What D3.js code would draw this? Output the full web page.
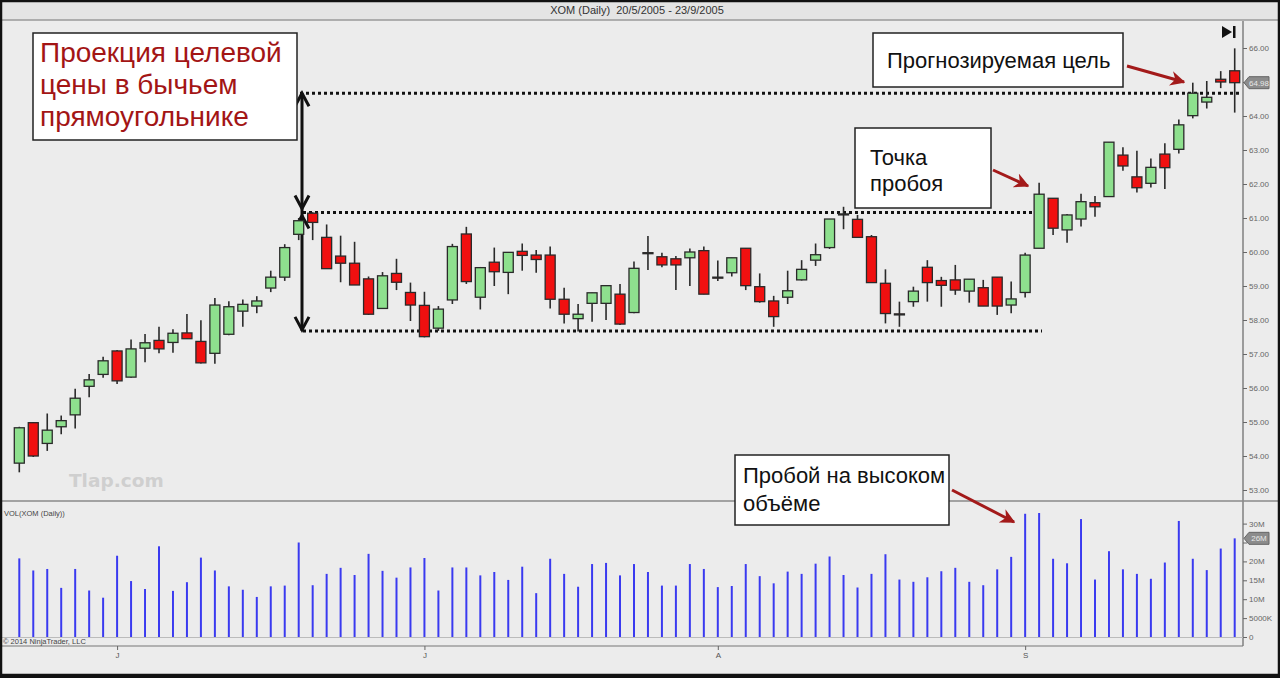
<!DOCTYPE html>
<html>
<head>
<meta charset="utf-8">
<script src="https://cdn.jsdelivr.net/npm/d3@7"></script>
<style>
  body { margin: 0; background: #ececec; }
  svg { display: block; font-family: 'Liberation Sans', Arial, sans-serif; }
</style>
</head>
<body>
<svg id="chart"></svg>
<script>
// data (XOM daily, 20/5/2005 - 23/9/2005)
const opens = [53.79, 54.98, 54.37, 54.86, 55.21, 56.05, 56.40, 57.09, 56.32, 57.17,
  57.40, 57.34, 57.62, 57.37, 57.02, 57.58, 58.26, 58.41, 58.94, 59.26,
  60.52, 61.14, 60.43, 59.88, 59.67, 59.21, 58.34, 59.37, 58.81, 58.43,
  57.76, 58.59, 60.53, 58.67, 59.70, 59.40, 60.02, 59.91, 59.91, 58.61,
  58.04, 58.49, 58.49, 58.76, 58.22, 59.98, 59.86, 59.80, 59.83, 60.04,
  59.26, 59.39, 60.11, 58.98, 58.56, 58.67, 59.18, 59.76, 60.13, 61.10,
  60.96, 60.45, 59.08, 58.18, 58.54, 59.55, 59.16, 59.18, 58.85, 58.95,
  59.26, 58.44, 58.81, 60.11, 61.58, 60.65, 60.97, 61.45, 61.63, 62.85,
  62.21, 62.02, 62.88, 63.02, 64.01, 64.41, 65.08, 65.33];
const highs = [54.86, 55.00, 55.25, 55.19, 55.98, 56.41, 56.92, 57.12, 57.43, 57.59,
  57.80, 57.73, 58.18, 57.99, 58.65, 58.55, 58.60, 58.70, 59.45, 60.23,
  61.00, 61.17, 60.81, 60.48, 60.30, 59.28, 59.41, 59.80, 59.10, 58.83,
  58.41, 60.24, 60.74, 59.56, 60.13, 60.00, 60.25, 60.06, 60.16, 58.95,
  58.47, 58.80, 59.01, 59.06, 59.72, 60.47, 59.98, 59.88, 60.10, 60.16,
  59.75, 59.83, 60.11, 59.37, 58.71, 59.45, 59.76, 60.25, 60.97, 61.33,
  61.09, 60.50, 59.49, 58.54, 58.98, 59.76, 59.27, 59.62, 59.20, 59.18,
  59.26, 59.13, 59.98, 62.04, 61.58, 61.12, 61.71, 61.65, 63.23, 63.08,
  62.98, 62.75, 63.20, 63.90, 64.98, 65.03, 65.32, 65.99];
const lows = [53.52, 53.97, 54.15, 54.64, 54.81, 55.73, 56.30, 56.12, 56.30, 56.76,
  57.02, 57.04, 57.44, 56.72, 56.71, 57.55, 57.80, 58.20, 58.82, 59.15,
  60.35, 60.35, 59.51, 59.11, 59.03, 58.15, 58.33, 58.88, 57.97, 57.49,
  57.68, 58.47, 59.06, 58.31, 59.00, 58.76, 59.45, 59.39, 58.34, 57.90,
  57.66, 57.95, 58.00, 57.85, 58.20, 59.47, 59.55, 58.88, 59.00, 58.76,
  59.15, 59.28, 58.88, 58.51, 57.80, 58.47, 59.16, 59.59, 60.09, 60.67,
  60.43, 59.10, 57.90, 57.80, 58.39, 58.54, 58.39, 58.74, 58.51, 58.41,
  58.15, 58.20, 58.66, 60.11, 60.50, 60.27, 60.75, 61.04, 61.63, 62.39,
  61.75, 61.90, 61.85, 62.90, 63.93, 64.22, 64.82, 64.10];
const closes = [54.83, 54.00, 54.76, 55.04, 55.70, 56.24, 56.80, 56.21, 57.15, 57.33,
  57.15, 57.61, 57.45, 56.74, 58.44, 58.39, 58.46, 58.56, 59.26, 60.13,
  60.92, 60.87, 59.51, 59.67, 59.03, 58.17, 59.30, 59.11, 58.44, 57.51,
  58.32, 60.16, 59.13, 59.54, 59.42, 59.99, 59.90, 59.78, 58.61, 58.17,
  58.17, 58.80, 59.01, 57.88, 59.52, 59.97, 59.62, 59.62, 60.00, 58.76,
  59.24, 59.83, 59.01, 58.54, 58.10, 58.86, 59.49, 59.92, 60.97, 61.12,
  60.43, 59.10, 58.19, 58.15, 58.85, 59.10, 59.02, 58.88, 59.20, 58.41,
  58.41, 58.62, 59.91, 61.70, 60.70, 61.09, 61.48, 61.33, 63.23, 62.53,
  61.89, 62.49, 62.48, 63.74, 64.67, 64.55, 65.00, 64.98];
// volume, millions of shares
const volumes = [20.8, 17.6, 18.0, 13.0, 18.0, 12.3, 10.4, 21.5, 14.8, 12.7,
  24.0, 12.2, 14.5, 21.0, 17.6, 13.4, 12.5, 10.6, 13.4, 13.6,
  25.0, 13.7, 16.7, 18.3, 16.4, 22.0, 17.5, 15.7, 18.4, 20.9,
  12.3, 18.4, 18.4, 16.3, 17.2, 15.1, 18.6, 11.6, 20.7, 16.7,
  13.3, 19.3, 19.6, 16.3, 19.3, 17.2, 13.6, 13.6, 19.3, 18.0,
  13.2, 13.5, 19.3, 16.1, 14.2, 17.3, 16.7, 19.4, 21.3, 16.4,
  13.1, 16.7, 21.9, 15.2, 14.6, 15.8, 17.4, 18.3, 14.6, 13.7,
  17.9, 21.2, 32.6, 32.8, 20.7, 19.5, 31.2, 15.2, 22.7, 17.9,
  16.7, 15.4, 19.7, 30.7, 20.7, 17.7, 23.4, 26.1];

// month ticks on the time axis (bar index of first session shown)
const monthIdx = [7, 29, 50, 72];
const monthLabels = ['J', 'J', 'A', 'S'];

// 65.00 and 25M sit under the last-value markers, so they carry no label
const priceTicks = [53, 54, 55, 56, 57, 58, 59, 60, 61, 62, 63, 64, 65, 66];
const priceTickLabels = ['53.00', '54.00', '55.00', '56.00', '57.00', '58.00', '59.00',
  '60.00', '61.00', '62.00', '63.00', '64.00', '', '66.00'];
const volTicks = [0, 5, 10, 15, 20, 25, 30];
const volTickLabels = ['0', '5000K', '10M', '15M', '20M', '', '30M'];

// pattern levels
const targetLevel = 64.67;
const resistance = 61.16;
const support = 57.68;

const width = 1280;
const height = 678;
const axisX = 1243;

const svg = d3.select('#chart')
    .attr('width', width)
    .attr('height', height);

// background
svg.append('rect')
    .attr('width', width).attr('height', height)
    .attr('fill', '#ececec');

// title bar
svg.append('rect')
    .attr('x', 0).attr('y', 0).attr('width', width).attr('height', 20)
    .attr('fill', '#e4e4e4');
svg.append('line')
    .attr('x1', 0).attr('x2', width).attr('y1', 20).attr('y2', 20)
    .attr('stroke', '#9a9a9a').attr('stroke-width', 1.5);
svg.append('text')
    .attr('x', 637).attr('y', 14)
    .attr('text-anchor', 'middle')
    .attr('font-size', 11)
    .attr('fill', '#333')
    .text('XOM (Daily)\u00a0 20/5/2005 - 23/9/2005');

// scales
const data = opens.map((o, i) => ({
    i: i, open: o, high: highs[i], low: lows[i], close: closes[i], vol: volumes[i]
}));

const x = d3.scalePoint().domain(d3.range(data.length)).range([19.3, 1234.7]);
const y = d3.scaleLinear().domain([53, 66]).range([490, 48]);
const yVol = d3.scaleLinear().domain([0, 30]).range([637, 523.6]);

// panel frames
svg.append('line')
    .attr('x1', axisX).attr('x2', axisX).attr('y1', 21).attr('y2', 646)
    .attr('stroke', '#666').attr('stroke-width', 1.2);
svg.append('line')
    .attr('x1', 0).attr('x2', width).attr('y1', 501).attr('y2', 501)
    .attr('stroke', '#8a8a8a').attr('stroke-width', 1.5);
svg.append('line')
    .attr('x1', 0).attr('x2', axisX).attr('y1', 646).attr('y2', 646)
    .attr('stroke', '#777').attr('stroke-width', 1.2);
svg.append('line')
    .attr('x1', 0).attr('x2', axisX).attr('y1', 637.5).attr('y2', 637.5)
    .attr('stroke', '#bbb').attr('stroke-width', 1);

// price axis
const yAxis = svg.append('g')
    .attr('transform', `translate(${axisX},0)`)
    .call(d3.axisRight(y).tickValues(priceTicks).tickFormat((d, k) => priceTickLabels[k]).tickSize(4).tickPadding(2));
yAxis.select('.domain').remove();
yAxis.selectAll('line').attr('stroke', '#666');
yAxis.selectAll('text').attr('font-size', 8).attr('fill', '#666').attr('font-family', 'Liberation Sans, Arial');

// volume axis
const vAxis = svg.append('g')
    .attr('transform', `translate(${axisX},0)`)
    .call(d3.axisRight(yVol).tickValues(volTicks).tickFormat((d, k) => volTickLabels[k]).tickSize(4).tickPadding(2));
vAxis.select('.domain').remove();
vAxis.selectAll('line').attr('stroke', '#666');
vAxis.selectAll('text').attr('font-size', 8).attr('fill', '#666').attr('font-family', 'Liberation Sans, Arial');

// time axis
const xAxis = svg.append('g')
    .attr('transform', 'translate(0,646)')
    .call(d3.axisBottom(x).tickValues(monthIdx).tickFormat((d, k) => monthLabels[k]).tickSize(4).tickPadding(2));
xAxis.select('.domain').remove();
xAxis.selectAll('line').attr('stroke', '#666');
xAxis.selectAll('text').attr('font-size', 8).attr('fill', '#555').attr('font-family', 'Liberation Sans, Arial');

// watermark
svg.append('text')
    .attr('x', 69).attr('y', 487)
    .attr('font-size', 18.5).attr('font-weight', 'bold')
    .attr('font-family', 'Verdana, DejaVu Sans, sans-serif')
    .attr('fill', '#cfcfcf')
    .text('Tlap.com');

// dotted levels
const dotted = [
    { level: targetLevel, x1: 300, x2: axisX - 2 },
    { level: resistance, x1: 303, x2: 1032 },
    { level: support, x1: 303, x2: 1042 }
];
svg.selectAll('.level')
    .data(dotted)
    .enter()
    .append('line')
    .attr('class', 'level')
    .attr('x1', d => d.x1).attr('x2', d => d.x2)
    .attr('y1', d => y(d.level)).attr('y2', d => y(d.level))
    .attr('stroke', '#111').attr('stroke-width', 3)
    .attr('stroke-dasharray', '3,3');

// double arrow showing the projected height
const ax = 302;
svg.append('line')
    .attr('x1', ax).attr('x2', ax)
    .attr('y1', y(targetLevel)).attr('y2', y(support))
    .attr('stroke', '#111').attr('stroke-width', 3);
const heads = [
    { yy: y(targetLevel), dir: -1 },
    { yy: y(resistance) - 4, dir: 1 },
    { yy: y(resistance) + 3, dir: -1 },
    { yy: y(support) - 1, dir: 1 }
];
svg.selectAll('.head')
    .data(heads)
    .enter()
    .append('polyline')
    .attr('class', 'head')
    .attr('points', d => `${ax - 7},${d.yy - d.dir * 13} ${ax},${d.yy} ${ax + 7},${d.yy - d.dir * 13}`)
    .attr('fill', 'none').attr('stroke', '#111').attr('stroke-width', 3);

// candles
const candle = svg.selectAll('.candle')
    .data(data)
    .enter()
    .append('g')
    .attr('class', 'candle');

candle.append('line')
    .attr('x1', d => x(d.i)).attr('x2', d => x(d.i))
    .attr('y1', d => y(d.high)).attr('y2', d => y(d.low))
    .attr('stroke', '#2a2a2a').attr('stroke-width', 1.6);

candle.append('rect')
    .attr('x', d => x(d.i) - 5)
    .attr('y', d => y(Math.max(d.open, d.close)))
    .attr('width', 10)
    .attr('height', d => Math.max(1, Math.abs(y(d.open) - y(d.close))))
    .attr('fill', d => d.close >= d.open ? '#8ee08e' : '#f01010')
    .attr('stroke', '#2a2a2a').attr('stroke-width', 1.3);

// volume bars
svg.selectAll('.vol')
    .data(data)
    .enter()
    .append('line')
    .attr('class', 'vol')
    .attr('x1', d => x(d.i)).attr('x2', d => x(d.i))
    .attr('y1', yVol(0)).attr('y2', d => yVol(d.vol))
    .attr('stroke', '#3a3af0').attr('stroke-width', 2);

svg.append('text')
    .attr('x', 4).attr('y', 516)
    .attr('font-size', 7.5).attr('fill', '#444')
    .text('VOL(XOM (Daily))');
svg.append('text')
    .attr('x', 3).attr('y', 644)
    .attr('font-size', 7.5).attr('fill', '#444')
    .text('© 2014 NinjaTrader, LLC');

// last value markers on the axes
function marker(yy, label) {
    const g = svg.append('g').attr('transform', `translate(${axisX + 1},${yy})`);
    g.append('path')
        .attr('d', 'M0,0 L5,-6 L25,-6 L25,6 L5,6 Z')
        .attr('fill', '#8c8c8c').attr('stroke', '#666');
    g.append('text')
        .attr('x', 15).attr('y', 3)
        .attr('text-anchor', 'middle')
        .attr('font-size', 8).attr('fill', '#e8e8e8')
        .text(label);
}
marker(y(closes[closes.length - 1]), d3.format('.2f')(closes[closes.length - 1]));
marker(yVol(volumes[volumes.length - 1]), Math.round(volumes[volumes.length - 1]) + 'M');

// "go to end" icon
svg.append('path')
    .attr('d', 'M1222,26 L1232,32 L1222,38 Z')
    .attr('fill', '#111');
svg.append('rect')
    .attr('x', 1233).attr('y', 26).attr('width', 2.5).attr('height', 12)
    .attr('fill', '#111');

// annotation boxes
const defs = svg.append('defs');
defs.append('marker')
    .attr('id', 'redhead')
    .attr('viewBox', '0 0 10 10')
    .attr('refX', 9).attr('refY', 5)
    .attr('markerWidth', 5).attr('markerHeight', 5)
    .attr('orient', 'auto')
    .append('path')
    .attr('d', 'M0,0 L10,5 L0,10 L3,5 Z')
    .attr('fill', '#a31a1a');

function box(x0, y0, w, h, lines, size, color, lineH, tx, ty) {
    svg.append('rect')
        .attr('x', x0).attr('y', y0).attr('width', w).attr('height', h)
        .attr('fill', '#fff').attr('stroke', '#222').attr('stroke-width', 1.5);
    svg.append('text')
        .attr('font-size', size).attr('fill', color)
        .selectAll('tspan')
        .data(lines)
        .enter()
        .append('tspan')
        .attr('x', tx).attr('y', (d, k) => ty + k * lineH)
        .text(d => d);
}

box(33, 33, 264, 107, ['Проекция целевой', 'цены в бычьем', 'прямоугольнике'], 28, '#a31515', 32, 40, 62);
box(873, 33, 250, 54, ['Прогнозируемая цель'], 22, '#111', 0, 887, 68);
box(855, 128, 136, 80, ['Точка', 'пробоя'], 22, '#111', 26, 870, 165);
box(735, 455, 214, 70, ['Пробой на высоком', 'объёме'], 22, '#111', 28, 743, 483);

const arrows = [
    [1127, 66, 1184, 82],
    [993, 170, 1028, 186],
    [952, 490, 1014, 522]
];
svg.selectAll('.note-arrow')
    .data(arrows)
    .enter()
    .append('line')
    .attr('class', 'note-arrow')
    .attr('x1', d => d[0]).attr('y1', d => d[1])
    .attr('x2', d => d[2]).attr('y2', d => d[3])
    .attr('stroke', '#a31a1a').attr('stroke-width', 3)
    .attr('marker-end', 'url(#redhead)');

// outer frame
svg.append('rect')
    .attr('x', 1).attr('y', 1).attr('width', width - 2).attr('height', height - 4)
    .attr('fill', 'none').attr('stroke', '#111').attr('stroke-width', 2.5);
svg.append('rect')
    .attr('x', 0).attr('y', height - 4).attr('width', width).attr('height', 4)
    .attr('fill', '#111');
</script>
</body>
</html>
